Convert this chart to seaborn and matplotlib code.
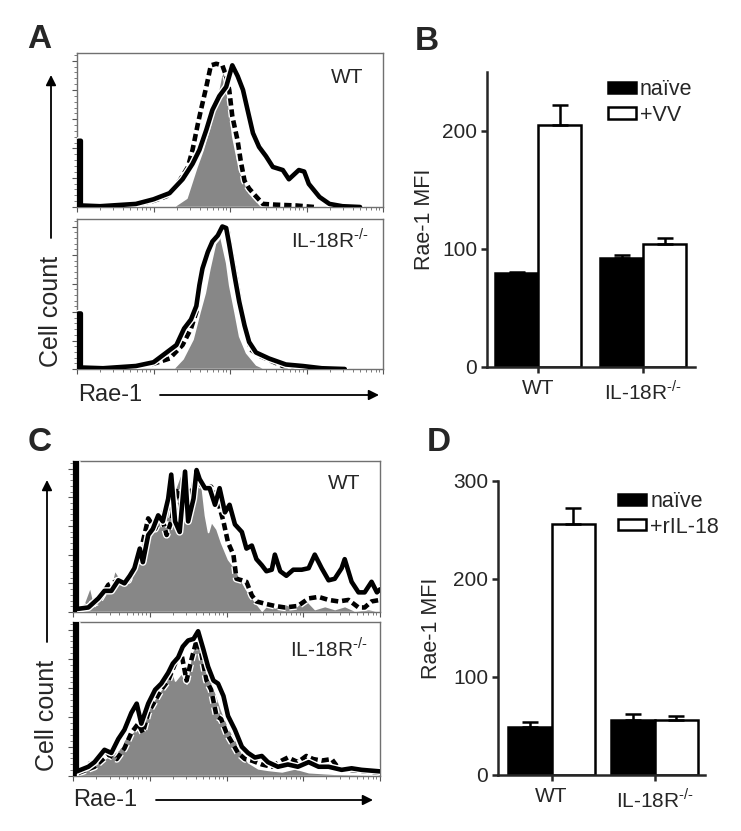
import numpy as np
import pandas as pd
import seaborn as sns
import matplotlib.pyplot as plt
import matplotlib.patheffects as pe
from matplotlib.ticker import MultipleLocator, LogLocator, NullFormatter

W, H = 741, 831

# ---------------- panel A: Rae-1 histograms (x in log decades, y in % of box) ----------------
a_wt_iso_x = [1.25, 1.43, 1.56, 1.64, 1.73, 1.82, 1.88, 1.92, 1.97, 2.03, 2.12, 2.25, 2.38, 2.47]
a_wt_iso_y = [0, 6, 26, 37, 52, 70, 85, 89, 70, 46, 24, 9, 2, 0]
a_wt_naive_x = [0.1, 0.5, 0.8, 1.0, 1.17, 1.34, 1.45, 1.51, 1.58, 1.62, 1.69, 1.75, 1.82, 1.9,
                1.95, 1.99, 2.03, 2.1, 2.14, 2.19, 2.25, 2.32, 2.43, 2.6, 2.86, 3.1]
a_wt_naive_y = [0.5, 1, 2, 4, 7, 17, 26, 37, 54, 63, 78, 92, 93, 92,
                85, 76, 59, 43, 30, 17, 12, 8, 2, 1.5, 1, 0]
a_wt_vv_x = [0.02, 0.02, 0.05, 0.05, 0.3, 0.77, 1.0, 1.21, 1.38, 1.51, 1.6, 1.69, 1.77, 1.86, 1.95,
             1.99, 2.03, 2.1, 2.17, 2.23, 2.3, 2.38, 2.47, 2.56, 2.69, 2.77, 2.9, 2.97, 3.03,
             3.17, 3.3, 3.47, 3.7]
a_wt_vv_y = [0, 43, 43, 1, 0.5, 2, 5, 9, 18, 28, 37, 50, 63, 72, 78,
             85, 92, 85, 76, 63, 48, 39, 33, 26, 24, 18, 24, 23, 15,
             6.5, 2, 0.5, 0]

a_ko_iso_x = [1.25, 1.38, 1.51, 1.6, 1.67, 1.73, 1.8, 1.84, 1.88, 1.95, 1.99, 2.06, 2.12, 2.21, 2.34, 2.47]
a_ko_iso_y = [0, 7, 20, 38, 51, 67, 83, 95, 87, 71, 56, 38, 22, 11, 3, 0]
a_ko_naive_x = [0.1, 0.5, 1.0, 1.21, 1.38, 1.49, 1.56, 1.6, 1.64, 1.69, 1.75, 1.82, 1.88, 1.93,
                1.97, 2.01, 2.08, 2.14, 2.21, 2.27, 2.38, 2.51, 2.69, 2.78, 2.95, 3.2]
a_ko_naive_y = [0.5, 1, 3.5, 7, 16, 27, 38, 54, 65, 76, 83, 87, 93, 95,
                92, 80, 60, 42, 25, 13, 9, 6, 2, 2, 0.5, 0]
a_ko_vv_x = [0.02, 0.02, 0.05, 0.05, 0.34, 0.77, 1.0, 1.17, 1.3, 1.4, 1.49, 1.56, 1.6, 1.64, 1.71,
             1.77, 1.84, 1.9, 1.95, 1.99, 2.06, 2.12, 2.19, 2.25, 2.34, 2.51, 2.73, 2.95, 3.2, 3.5]
a_ko_vv_y = [0, 37, 37, 1, 0.5, 2, 4.5, 11, 16, 27, 33, 42, 56, 67, 78,
             85, 89, 95, 94, 83, 62, 45, 29, 18, 11, 7, 3, 2, 0.5, 0]

# ---------------- panel C: Rae-1 histograms with rIL-18 ----------------
c_wt_iso_x = [0.05, 0.11, 0.22, 0.28, 0.41, 0.48, 0.54, 0.63, 0.74, 0.85, 0.93, 1.07, 1.15, 1.24,
              1.33, 1.41, 1.48, 1.54, 1.61, 1.67, 1.72, 1.76, 1.8, 1.87, 1.93, 2.02, 2.11, 2.2,
              2.28, 2.37, 2.46, 2.54, 2.63, 2.76, 2.89, 3.02, 3.15, 3.28, 3.41, 3.54, 3.67, 3.85, 4.0]
c_wt_iso_y = [0, 2, 17, 4, 19, 15, 28, 21, 22, 38, 53, 60, 69, 75,
              82, 93, 77, 88, 94, 86, 64, 53, 60, 55, 46, 35, 29, 20,
              13, 7, 1, 5.5, 3, 5.5, 3, 9, 2, 4, 2, 4, 1, 2, 0.5]
c_wt_naive_x = [0.09, 0.33, 0.46, 0.59, 0.72, 0.8, 0.89, 0.98, 1.07, 1.15, 1.22, 1.28, 1.35, 1.41,
                1.48, 1.54, 1.61, 1.67, 1.74, 1.8, 1.89, 1.96, 2.02, 2.09, 2.13, 2.2, 2.26, 2.33,
                2.39, 2.5, 2.63, 2.76, 2.93, 3.07, 3.2, 3.33, 3.46, 3.59, 3.72, 3.8, 3.89, 4.0]
c_wt_naive_y = [2, 7, 18, 21, 21, 31, 42, 62, 55, 64, 51, 60, 82, 69,
                84, 77, 91, 84, 82, 83, 73, 60, 46, 38, 22, 21, 20, 11,
                7, 5.5, 4, 3, 4, 9, 10, 8, 7, 8, 3, 3, 7, 8]
c_wt_ril_x = [0.02, 0.02, 0.05, 0.05, 0.2, 0.33, 0.41, 0.5, 0.59, 0.67, 0.74, 0.8, 0.87, 0.91, 0.98,
              1.04, 1.11, 1.17, 1.24, 1.28, 1.33, 1.39, 1.46, 1.5, 1.57, 1.61, 1.65, 1.72, 1.78,
              1.85, 1.91, 1.98, 2.04, 2.11, 2.2, 2.26, 2.33, 2.39, 2.46, 2.52, 2.59, 2.63, 2.7,
              2.78, 2.87, 2.98, 3.07, 3.15, 3.24, 3.33, 3.41, 3.5, 3.54, 3.63, 3.72, 3.8, 3.89,
              3.96, 4.0]
c_wt_ril_y = [0, 130, 130, 2, 3, 9, 14, 14, 21, 19, 24, 29, 42, 33, 51,
              55, 64, 60, 75, 91, 60, 53, 93, 60, 75, 94, 88, 82, 82,
              71, 82, 66, 71, 58, 53, 42, 44, 35, 31, 27, 28, 38, 27,
              24, 28, 28, 29, 38, 29, 21, 22, 29, 35, 20, 13, 13, 20,
              13, 15]

c_ko_iso_x = [0.05, 0.11, 0.2, 0.28, 0.37, 0.46, 0.59, 0.67, 0.76, 0.85, 0.93, 1.02, 1.11, 1.2,
              1.26, 1.33, 1.41, 1.48, 1.54, 1.61, 1.67, 1.74, 1.8, 1.87, 1.93, 2.02, 2.11, 2.2,
              2.28, 2.41, 2.54, 2.72, 2.89, 3.07, 3.4, 4.0]
c_ko_iso_y = [0, 4, 11, 7.5, 10, 13, 17, 24, 28, 32, 39, 47, 54, 60,
              75, 62, 67, 60, 80, 86, 82, 67, 62, 52, 43, 32, 24, 15,
              9, 5, 4, 3, 5, 2.5, 1.5, 1]
c_ko_naive_x = [0.07, 0.28, 0.46, 0.57, 0.67, 0.76, 0.85, 0.91, 0.98, 1.07, 1.15, 1.24, 1.33, 1.41,
                1.48, 1.54, 1.61, 1.67, 1.74, 1.8, 1.87, 1.93, 2.0, 2.07, 2.15, 2.24, 2.33, 2.46,
                2.59, 2.72, 2.8, 2.93, 3.04, 3.13, 3.24, 3.37, 3.46, 3.6, 3.8, 4.0]
c_ko_naive_y = [2, 6, 14, 11, 18, 28, 34, 28, 41, 49, 56, 62, 73, 80,
                62, 75, 88, 80, 62, 56, 39, 37, 28, 22, 15, 11, 10, 7.5,
                6, 10, 12, 9, 13, 11, 10, 11, 5, 4, 3, 2]
c_ko_ril_x = [0.02, 0.02, 0.05, 0.05, 0.2, 0.28, 0.41, 0.5, 0.59, 0.67, 0.76, 0.83, 0.89, 0.98, 1.07,
              1.15, 1.24, 1.3, 1.37, 1.43, 1.5, 1.57, 1.63, 1.7, 1.76, 1.83, 1.89, 1.96, 2.02,
              2.11, 2.2, 2.28, 2.37, 2.46, 2.54, 2.67, 2.8, 2.93, 3.07, 3.2, 3.33, 3.5, 3.63,
              3.76, 4.0]
c_ko_ril_y = [0, 130, 130, 3, 6, 9, 17, 15, 24, 30, 41, 47, 34, 47, 56,
              60, 67, 73, 77, 84, 88, 89, 94, 82, 71, 62, 60, 52, 39,
              30, 19, 15, 12, 13, 9, 6, 7.5, 6, 9, 6, 6, 4, 5,
              4, 3]

# ---------------- panels B and D: Rae-1 MFI bars ----------------
groups = ['WT', 'IL-18R']
group_labels = ['WT', 'IL-18R$^{\\mathregular{\u2010/\u2010}}$']
b_naive = [80, 92.5]
b_naive_err = [0.5, 2]
b_vv = [205, 104]
b_vv_err = [17, 5.5]
d_naive = [49, 56.5]
d_naive_err = [5, 6]
d_ril = [256, 56]
d_ril_err = [16, 4.7]

sns.set_style('ticks')
plt.rcParams['font.family'] = ['Liberation Sans', 'DejaVu Sans']
plt.rcParams['mathtext.fontset'] = 'custom'
plt.rcParams['mathtext.rm'] = 'Liberation Sans'

fig = plt.figure(figsize=(W / 100, H / 100), dpi=100)


def px_axes(left, top, right, bottom):
    return fig.add_axes([left / W, 1 - bottom / H, (right - left) / W, (bottom - top) / H])


def fx(px):
    return px / W


def fy(py):
    return 1 - py / H


def draw_hist(ax, iso_x, iso_y, naive_x, naive_y, treat_x, treat_y, label, lx, ly):
    ax.fill_between(np.power(10.0, iso_x), iso_y, color='#878787', edgecolor='white',
                    linewidth=1.2, zorder=1)
    halo = [pe.Stroke(linewidth=5.3, foreground='white'), pe.Normal()]
    sns.lineplot(x=np.power(10.0, naive_x), y=naive_y, ax=ax, color='black', linewidth=3.3,
                 linestyle=(0, (1.6, 0.85)), path_effects=halo, zorder=2,
                 estimator=None, sort=False)
    sns.lineplot(x=np.power(10.0, treat_x), y=treat_y, ax=ax, color='black', linewidth=3.3,
                 path_effects=halo, zorder=3, estimator=None, sort=False)
    ax.set_xscale('log')
    ax.set_xlim(1, 1e4)
    ax.set_ylim(0, 100)
    ax.xaxis.set_major_locator(LogLocator(base=10, numticks=10))
    ax.xaxis.set_minor_locator(LogLocator(base=10, subs=np.arange(2, 10), numticks=20))
    ax.xaxis.set_major_formatter(NullFormatter())
    ax.xaxis.set_minor_formatter(NullFormatter())
    ax.yaxis.set_major_locator(MultipleLocator(19))
    ax.yaxis.set_minor_locator(MultipleLocator(3.8))
    ax.yaxis.set_major_formatter(NullFormatter())
    ax.tick_params(which='major', direction='out', length=3.5, width=0.8, color='#555555')
    ax.tick_params(which='minor', direction='out', length=2, width=0.6, color='#666666')
    for s in ax.spines.values():
        s.set_color('#707070')
        s.set_linewidth(1.0)
    ax.set_xlabel('')
    ax.set_ylabel('')
    ax.text(lx, ly, label, transform=ax.transAxes, ha='right', va='center', fontsize=15)


def draw_bars(ax, naive, naive_err, treat, treat_err, treat_name, ymax, yticks, width, xlim,
              anchor, labelpad):
    df = pd.DataFrame({'group': groups * 2,
                       'condition': ['naïve'] * 2 + [treat_name] * 2,
                       'mfi': naive + treat})
    sns.barplot(data=df, x='group', y='mfi', hue='condition',
                palette={'naïve': 'black', treat_name: 'white'}, edgecolor='black',
                linewidth=1.8, width=width, errorbar=None, ax=ax)
    for cont, vals, errs in zip(ax.containers, [naive, treat], [naive_err, treat_err]):
        for bar, v, e in zip(cont, vals, errs):
            ax.errorbar(bar.get_x() + bar.get_width() / 2, v, yerr=[[0], [e]], color='black',
                        lw=1.8, capsize=6, capthick=1.8, zorder=3)
    sns.despine(ax=ax)
    ax.spines['left'].set_linewidth(1.8)
    ax.spines['bottom'].set_linewidth(1.8)
    ax.set_ylim(0, ymax)
    ax.set_yticks(yticks)
    ax.set_xlim(*xlim)
    ax.set_xticks([0, 1])
    ax.set_xticklabels(group_labels)
    ax.tick_params(axis='both', direction='out', length=4, width=1.8, labelsize=15, pad=3)
    ax.tick_params(axis='x', pad=5)
    ax.set_xlabel('')
    ax.set_ylabel('Rae-1 MFI', fontsize=15.5, labelpad=labelpad)
    handles, labels = ax.get_legend_handles_labels()
    ax.legend(handles, labels, loc='upper left', bbox_to_anchor=anchor, frameon=False,
              fontsize=15.5, handlelength=1.3, handleheight=0.42, handletextpad=0.2,
              labelspacing=0.2, borderaxespad=0, borderpad=0)


# panel A
ax_a1 = px_axes(77, 53, 383, 207)
draw_hist(ax_a1, a_wt_iso_x, a_wt_iso_y, a_wt_naive_x, a_wt_naive_y, a_wt_vv_x, a_wt_vv_y,
          'WT', 0.935, 0.84)
ax_a2 = px_axes(77, 219, 383, 369)
draw_hist(ax_a2, a_ko_iso_x, a_ko_iso_y, a_ko_naive_x, a_ko_naive_y, a_ko_vv_x, a_ko_vv_y,
          'IL-18R$^{\\mathregular{\u2010/\u2010}}$', 0.955, 0.86)

# panel B
ax_b = px_axes(487, 72, 695, 367)
draw_bars(ax_b, b_naive, b_naive_err, b_vv, b_vv_err, '+VV', 250, [0, 100, 200], 0.82,
          (-0.486, 1.495), (0.58, 0.975), 5)

# panel C
ax_c1 = px_axes(73, 461, 380, 612)
draw_hist(ax_c1, c_wt_iso_x, c_wt_iso_y, c_wt_naive_x, c_wt_naive_y, c_wt_ril_x, c_wt_ril_y,
          'WT', 0.935, 0.85)
ax_c2 = px_axes(73, 622, 380, 776)
draw_hist(ax_c2, c_ko_iso_x, c_ko_iso_y, c_ko_naive_x, c_ko_naive_y, c_ko_ril_x, c_ko_ril_y,
          'IL-18R$^{\\mathregular{\u2010/\u2010}}$', 0.96, 0.83)

# panel D
ax_d = px_axes(498, 481, 705, 775)
draw_bars(ax_d, d_naive, d_naive_err, d_ril, d_ril_err, '+rIL-18', 300, [0, 100, 200, 300], 0.85,
          (-0.52, 1.49), (0.58, 0.965), 8)

# panel letters
for letter, px, py in [('A', 27, 39), ('B', 415, 41), ('C', 28, 443), ('D', 427, 443)]:
    fig.text(fx(px), fy(py), letter, fontsize=24, fontweight='bold', ha='left', va='center')

# axis captions and arrows for the histogram panels
arrow = dict(arrowstyle='-|>', color='black', lw=1.3, mutation_scale=15, shrinkA=0, shrinkB=0)
for x_v, y_top, y_low, y_cc, x_r, x_a0, x_a1, y_r in [(51, 75, 238, 311, 78, 160, 379, 395),
                                                       (47, 480, 642, 715, 73, 156, 373, 800)]:
    ax_a1.annotate('', xy=(fx(x_v), fy(y_top)), xytext=(fx(x_v), fy(y_low)),
                   xycoords='figure fraction', textcoords='figure fraction',
                   arrowprops=arrow, annotation_clip=False)
    fig.text(fx(x_v), fy(y_cc), 'Cell count', rotation=90, fontsize=18, ha='center', va='center')
    fig.text(fx(x_r), fy(y_r), 'Rae-1', fontsize=17, ha='left', va='center')
    ax_a1.annotate('', xy=(fx(x_a1), fy(y_r)), xytext=(fx(x_a0), fy(y_r)),
                   xycoords='figure fraction', textcoords='figure fraction',
                   arrowprops=arrow, annotation_clip=False)

fig.savefig('out.png', dpi=100)
